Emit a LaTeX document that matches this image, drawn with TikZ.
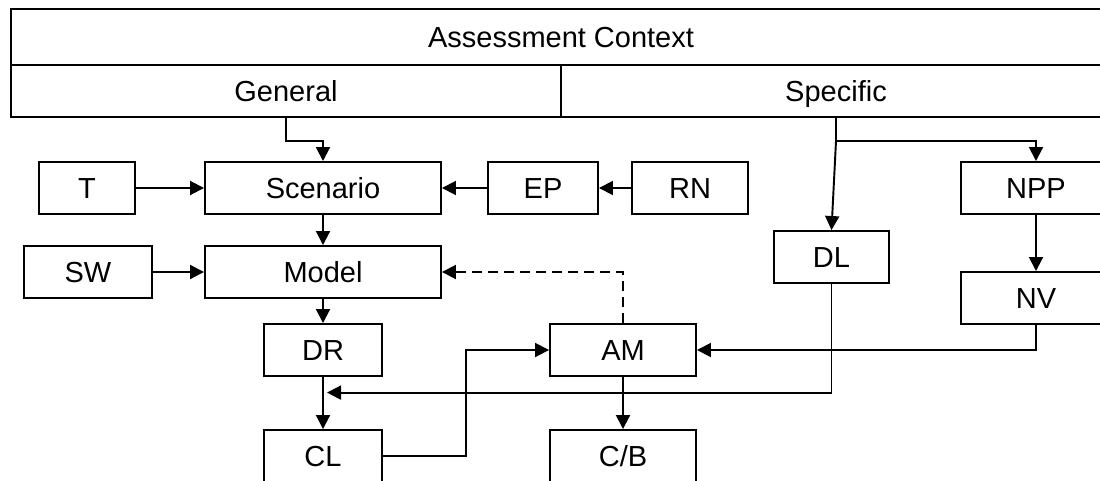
\documentclass[tikz,border=0pt]{standalone}
\usepackage{fontspec}
\setmainfont{Liberation Sans}
\usetikzlibrary{arrows.meta,positioning,calc}
\tikzset{
  >={Triangle[length=2.8mm,width=2.8mm]},
  base/.style={draw=black, line width=1.1pt, inner sep=0pt,
               font=\fontsize{16.5}{19}\selectfont, align=center,
               text height=12pt, text depth=0.2pt},
  box/.style={base, minimum height=1.04cm},
  headcell/.style={base, minimum width=11cm, minimum height=1.04cm},
  link/.style={->, draw=black, line width=1.1pt},
  feedback/.style={link, dash pattern=on 5.7pt off 3.4pt}
}
\begin{document}
\begin{tikzpicture}

\useasboundingbox (0,0) rectangle (22,9.6);
\clip (0,0) rectangle (22,9.6);

% ------------------------------------------------------------
% HEADER
% ------------------------------------------------------------
\node[base, minimum width=22cm, minimum height=1.12cm] (ctx) at (11.22,8.86)
{Assessment Context};
\node[headcell] (gen) at (5.72,7.78) {General};
\node[headcell] (spec) at (16.72,7.78) {Specific};

% ------------------------------------------------------------
% GENERAL BRANCH
% ------------------------------------------------------------
\node[box, minimum width=1.92cm] (t) at (1.74,5.84) {T};
\node[box, minimum width=4.72cm] (scen) at (6.46,5.84) {Scenario};
\node[box, minimum width=2.20cm] (ep) at (10.86,5.84) {EP};
\node[box, minimum width=2.32cm] (rn) at (13.80,5.84) {RN};

\node[box, minimum width=2.56cm] (sw) at (1.76,4.16) {SW};
\node[box, minimum width=4.72cm] (model) at (6.46,4.16) {Model};

\node[box, minimum width=2.36cm] (dr) at (6.46,2.60) {DR};
\node[box, minimum width=2.36cm] (cl) at (6.46,0.48) {CL};

% ------------------------------------------------------------
% SPECIFIC BRANCH
% ------------------------------------------------------------
\node[box, minimum width=3.00cm] (npp) at (20.72,5.84) {NPP};
\node[box, minimum width=2.30cm] (dl) at (16.63,4.46) {DL};
\node[box, minimum width=3.00cm] (nv) at (20.72,3.64) {NV};

\node[box, minimum width=2.92cm] (am) at (12.46,2.60) {AM};
\node[box, minimum width=2.92cm] (cb) at (12.46,0.48) {C/B};

% ------------------------------------------------------------
% CONNECTORS
% ------------------------------------------------------------
\draw[link] (gen.south) -- ++(0,-0.46) -| (scen.north);
\draw[link] (spec.south) -- ++(0,-0.46) coordinate (sbend) -| (npp.north);
\draw[link] (sbend) -- (dl.north);

\draw[link] (t) -- (scen);
\draw[link] (ep) -- (scen);
\draw[link] (rn) -- (ep);
\draw[link] (sw) -- (model);

\draw[link] (scen) -- (model);
\draw[link] (model) -- (dr);
\draw[link] (dr) -- (cl);
\draw[link] (npp) -- (nv);
\draw[link] (am) -- (cb);

% assessment loop
\draw[feedback] (am.north) |- (model.east);
\draw[link] (nv.south) |- (am.east);
\coordinate (cljog) at (9.32,0);
\draw[link] (cl.east) -- (cl.east -| cljog) |- (am.west);
\coordinate (drcl) at ($(dr.south)!0.3!(cl.north)$);
\draw[link] (dl.south) |- ([xshift=0.08cm]drcl);

\end{tikzpicture}
\end{document}
